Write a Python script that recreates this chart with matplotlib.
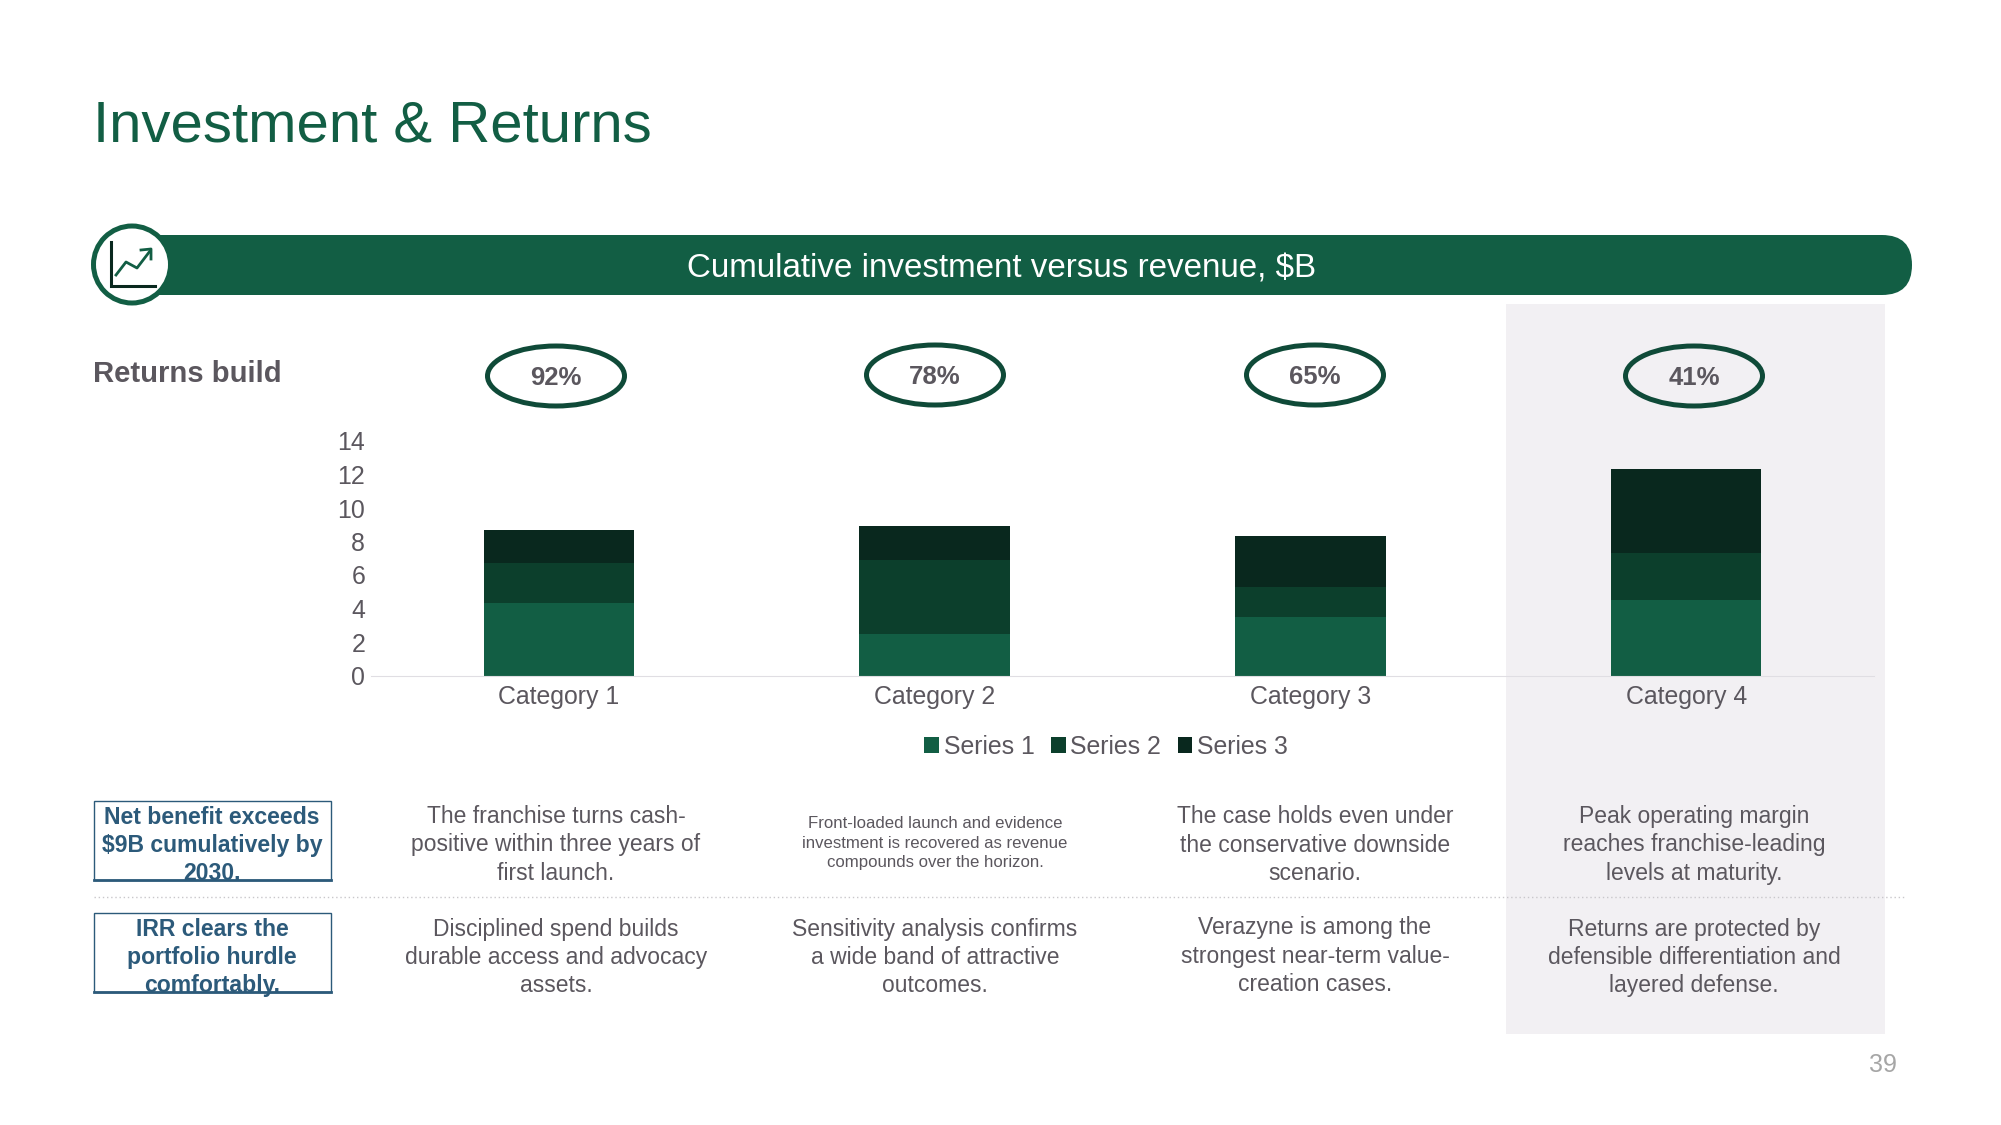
import matplotlib
matplotlib.use('Agg')
import matplotlib.pyplot as plt
import matplotlib.patches as patches
import numpy as np

plt.rcParams['font.family'] = ['Liberation Sans', 'DejaVu Sans']

categories = ['Category 1', 'Category 2', 'Category 3', 'Category 4']
series_names = ['Series 1', 'Series 2', 'Series 3']
series_1 = [4.3, 2.5, 3.5, 4.5]
series_2 = [2.4, 4.4, 1.8, 2.8]
series_3 = [2.0, 2.0, 3.0, 5.0]
y_ticks = [0, 2, 4, 6, 8, 10, 12, 14]
percents = ['92%', '78%', '65%', '41%']

row_1_label = 'Net benefit exceeds\n$9B cumulatively by\n2030.'
row_2_label = 'IRR clears the\nportfolio hurdle\ncomfortably.'
row_1_text = ['The franchise turns cash-\npositive within three years of\nfirst launch.',
              'Front-loaded launch and evidence\ninvestment is recovered as revenue\ncompounds over the horizon.',
              'The case holds even under\nthe conservative downside\nscenario.',
              'Peak operating margin\nreaches franchise-leading\nlevels at maturity.']
row_2_text = ['Disciplined spend builds\ndurable access and advocacy\nassets.',
              'Sensitivity analysis confirms\na wide band of attractive\noutcomes.',
              'Verazyne is among the\nstrongest near-term value-\ncreation cases.',
              'Returns are protected by\ndefensible differentiation and\nlayered defense.']

GREEN = '#125E44'
GREEN_2 = '#0C3F2C'
GREEN_3 = '#09281E'
OUTLINE = '#0F4A38'
GREY = '#5B575E'
BLUE = '#2C5A7A'
W, H = 2001, 1125

fig = plt.figure(figsize=(W / 100, H / 100), dpi=100, facecolor='white')

# full page layer in pixels, for the slide furniture
page = fig.add_axes([0, 0, 1, 1], zorder=0)
page.set_xlim(0, W)
page.set_ylim(H, 0)
page.axis('off')

page.add_patch(patches.Rectangle((1506, 304), 379, 730, facecolor='#F2F0F3', edgecolor='none'))
page.text(93, 126, 'Investment & Returns', fontsize=41.9, color=GREEN, va='center', ha='left')

# banner + icon
page.add_patch(patches.FancyBboxPatch((110, 235), 1802, 60, boxstyle='round,pad=0,rounding_size=30',
                                      facecolor=GREEN, edgecolor='none'))
page.add_patch(patches.Circle((132, 264.5), 38.5, facecolor='white', edgecolor=GREEN, linewidth=3.6, zorder=3))
page.plot([111, 111, 155], [242, 286, 286], color=GREEN_3, lw=2.2, zorder=4, solid_joinstyle='miter')
page.plot([116, 126, 137, 150], [275, 262, 268, 251], color=GREEN, lw=2.0, zorder=4)
page.plot([141, 151, 151], [250, 249, 259], color=GREEN, lw=2.0, zorder=4)
page.text(1002, 269, 'Cumulative investment versus revenue, $B', fontsize=23.9, color='white', ha='center', va='center')

page.text(93, 374.3, 'Returns build', fontsize=21.1, fontweight='bold', color=GREY, va='center')

col_x = [556, 935, 1315, 1694]
ell_y = [376, 375, 375, 376]
for x, y, p in zip(col_x, ell_y, percents):
    page.add_patch(patches.Ellipse((x, y), 137, 60, facecolor='none', edgecolor=OUTLINE, linewidth=3.6))
    page.text(x, y + 2, p, fontsize=18.5, fontweight='bold', color=GREY, ha='center', va='center')

# row labels
for top, bottom, label in [(801, 880, row_1_label), (913, 992, row_2_label)]:
    page.add_patch(patches.Rectangle((93.5, top), 237.5, bottom - top, facecolor='none', edgecolor=BLUE, linewidth=1))
    page.plot([93.5, 331], [bottom, bottom], color=BLUE, lw=2)
    page.text(212, (top + bottom) / 2 + 5, label, fontsize=16.55, fontweight='bold', color=BLUE,
              ha='center', va='center', linespacing=1.3)

page.plot([94, 1904], [897, 897], color='#C9C7CB', lw=1, ls=(0, (1, 2)))

row_2_y = [957.5, 957.5, 956, 957.5]
for i, x in enumerate(col_x):
    if i == 1:
        page.text(x, 843, row_1_text[i], fontsize=12.1, color=GREY, ha='center', va='center', linespacing=1.4)
    else:
        page.text(x, 845, row_1_text[i], fontsize=16.45, color=GREY, ha='center', va='center', linespacing=1.3)
    page.text(x, row_2_y[i], row_2_text[i], fontsize=16.45, color=GREY, ha='center', va='center', linespacing=1.3)

page.text(1883, 1064.5, '39', fontsize=18, color='#A6A6A6', ha='center', va='center')

# the chart itself
ax = fig.add_axes([371 / W, 1 - 675.5 / H, (1874 - 371) / W, 234.5 / H], zorder=1)
ax.patch.set_alpha(0)
x = np.arange(len(categories))
s1 = np.array(series_1)
s2 = np.array(series_2)
s3 = np.array(series_3)
width = 0.4
ax.bar(x, s1, width, color=GREEN, label=series_names[0])
ax.bar(x, s2, width, bottom=s1, color=GREEN_2, label=series_names[1])
ax.bar(x, s3, width, bottom=s1 + s2, color=GREEN_3, label=series_names[2])
ax.set_xlim(-0.5, 3.5)
ax.set_ylim(0, 14)
ax.set_yticks(y_ticks)
ax.set_xticks(x)
ax.set_xticklabels(categories)
ax.tick_params(axis='both', length=0, labelsize=17.9, labelcolor=GREY)
ax.tick_params(axis='x', pad=7)
ax.tick_params(axis='y', pad=4.2)
for name in ['top', 'left', 'right']:
    ax.spines[name].set_visible(False)
ax.spines['bottom'].set_color('#E0DEE3')

ax.legend(loc='center', bbox_to_anchor=(0.489, -0.305), ncols=3, frameon=False, fontsize=17.9, labelcolor=GREY,
          handlelength=0.6, handleheight=0.6, handletextpad=0.2, columnspacing=0.65)

fig.savefig('out.png', dpi=100)
